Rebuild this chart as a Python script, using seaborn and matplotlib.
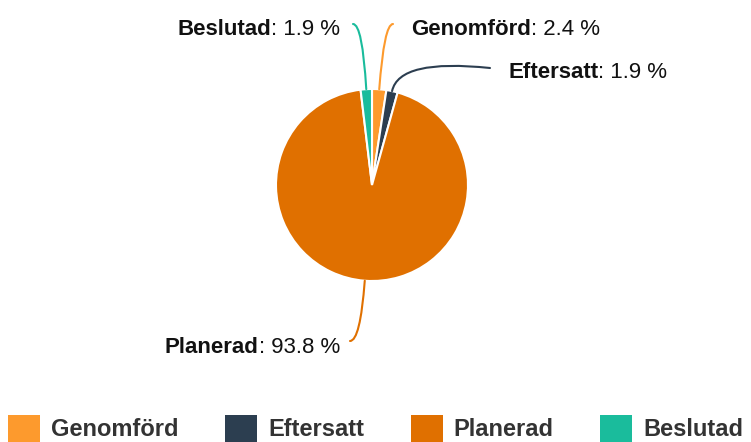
import matplotlib
matplotlib.use("Agg")
import matplotlib.pyplot as plt
from matplotlib.patches import Patch
import numpy as np
import seaborn as sns

# Data
categories = ["Genomförd", "Eftersatt", "Planerad", "Beslutad"]
shares = [2.4, 1.9, 93.8, 1.9]
colors = ["#fd9a2d", "#2c3e50", "#e07000", "#1abc9c"]

W, H = 751, 442

sns.set_theme(style="white")
plt.rcParams["font.family"] = ["Liberation Sans", "DejaVu Sans"]

fig = plt.figure(figsize=(W / 100, H / 100), dpi=100)
# pie: centre (372, 185) px from top-left, radius 96 px
ax = fig.add_axes([276 / W, (H - 281) / H, 192 / W, 192 / H])
wedges, _ = ax.pie(
    shares,
    colors=colors,
    startangle=90,
    counterclock=False,
    wedgeprops=dict(edgecolor="white", linewidth=1.5),
)
ax.set_xlim(-1, 1)
ax.set_ylim(-1, 1)
ax.axis("off")

renderer = fig.canvas.get_renderer()


def label(name, value, x, y, ha):
    # bold name + regular value, positioned in top-origin pixels
    fy = (H - y) / H
    if ha == "left":
        t = fig.text(x / W, fy, name, fontsize=16, fontweight="bold",
                     color="#111111", ha="left", va="baseline")
        w = t.get_window_extent(renderer).width
        fig.text((x + w) / W, fy, f": {value} %", fontsize=16,
                 color="#111111", ha="left", va="baseline")
    else:
        t = fig.text(x / W, fy, f": {value} %", fontsize=16,
                     color="#111111", ha="right", va="baseline")
        w = t.get_window_extent(renderer).width
        fig.text((x - w) / W, fy, name, fontsize=16, fontweight="bold",
                 color="#111111", ha="right", va="baseline")


# connector start (top-origin px), text anchor, alignment, curve angle at the label end
layout = {
    "Genomförd": dict(line=(393, 24), text=(411, 35), ha="left", angA=0),
    "Eftersatt": dict(line=(490, 68), text=(508, 78), ha="left", angA=-6),
    "Planerad": dict(line=(350, 341), text=(340, 353), ha="right", angA=0),
    "Beslutad": dict(line=(353, 24), text=(340, 35), ha="right", angA=0),
}

for wedge, name, share, col in zip(wedges, categories, shares, colors):
    mid = (wedge.theta1 + wedge.theta2) / 2
    rad = np.deg2rad(mid)
    xy = (np.cos(rad), np.sin(rad))
    lay = layout[name]
    lx, ly = lay["line"]
    ax.annotate(
        "", xy=xy, xycoords="data",
        xytext=(lx, H - ly), textcoords="figure pixels",
        annotation_clip=False,
        arrowprops=dict(arrowstyle="-", color=col, lw=1.5,
                        shrinkA=0, shrinkB=0,
                        connectionstyle=f"angle3,angleA={lay['angA']},angleB={mid:.1f}"),
    )
    label(name, share, lay["text"][0], lay["text"][1], lay["ha"])

handles = [Patch(facecolor=c, edgecolor="none") for c in colors]
fig.legend(
    handles, categories,
    ncol=4, loc="upper center", bbox_to_anchor=(0.5, (H - 415) / H),
    frameon=False, prop=dict(size=17, weight="bold"), labelcolor="#333333",
    handlelength=1.36, handleheight=1.36, handletextpad=0.47,
    columnspacing=1.97, borderpad=0, borderaxespad=0,
)

fig.savefig("out.png", dpi=100)
